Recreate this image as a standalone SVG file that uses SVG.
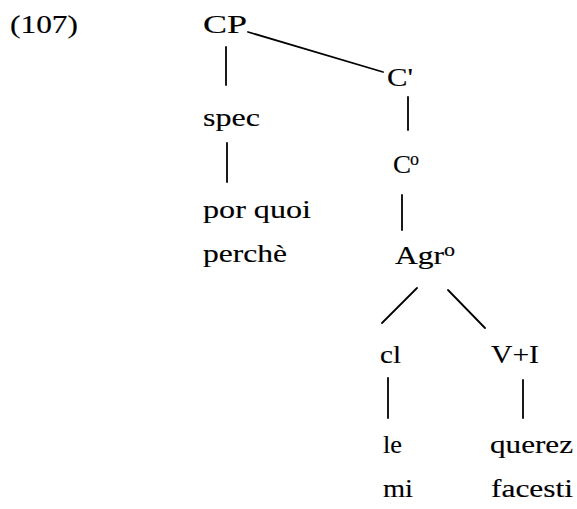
<svg xmlns="http://www.w3.org/2000/svg" width="577" height="509" viewBox="0 0 577 509">
<style>
text{font-family:"Liberation Serif","Times New Roman",serif;font-size:26px;fill:#000;stroke:#000;stroke-width:0.15}
.sup{font-size:18px}
line{stroke:#000;stroke-width:1.8;stroke-linecap:round}
</style>
<rect width="577" height="509" fill="#fff"/>
<text x="10" y="33" textLength="68" lengthAdjust="spacingAndGlyphs">(107)</text>
<g id="connectors">
<line x1="248" y1="32" x2="383" y2="72"/>
<line x1="226" y1="47" x2="226" y2="85"/>
<line x1="227" y1="143" x2="227" y2="182"/>
<line x1="408" y1="97" x2="408" y2="130"/>
<line x1="402" y1="195" x2="402" y2="230"/>
<line x1="417" y1="288" x2="382" y2="323"/>
<line x1="448" y1="290" x2="485" y2="328"/>
<line x1="388" y1="378" x2="388" y2="418"/>
<line x1="523" y1="380" x2="523" y2="418"/>
</g>
<g id="n-cp"><text x="203" y="33" textLength="44" lengthAdjust="spacingAndGlyphs">CP</text></g>
<g id="n-cbar"><text x="387" y="86" textLength="26" lengthAdjust="spacingAndGlyphs">C'</text></g>
<g id="n-spec"><text x="203" y="126" textLength="57" lengthAdjust="spacingAndGlyphs">spec</text></g>
<g id="n-c0"><text x="393" y="173" textLength="18" lengthAdjust="spacingAndGlyphs">C</text><text class="sup" x="410" y="165" textLength="9" lengthAdjust="spacingAndGlyphs">o</text></g>
<g id="n-porquoi"><text x="203" y="218" textLength="108" lengthAdjust="spacingAndGlyphs">por quoi</text><text x="203" y="262" textLength="84" lengthAdjust="spacingAndGlyphs">perchè</text></g>
<g id="n-agr"><text x="395" y="264" textLength="49" lengthAdjust="spacingAndGlyphs">Agr</text><text class="sup" x="444" y="256" textLength="11" lengthAdjust="spacingAndGlyphs">o</text></g>
<g id="n-cl"><text x="380" y="363" textLength="21" lengthAdjust="spacingAndGlyphs">cl</text></g>
<g id="n-vi"><text x="491" y="363" textLength="48" lengthAdjust="spacingAndGlyphs">V+I</text></g>
<g id="n-le"><text x="383" y="453" textLength="19" lengthAdjust="spacingAndGlyphs">le</text><text x="383" y="497" textLength="30" lengthAdjust="spacingAndGlyphs">mi</text></g>
<g id="n-querez"><text x="490" y="453" textLength="83" lengthAdjust="spacingAndGlyphs">querez</text><text x="491" y="497" textLength="82" lengthAdjust="spacingAndGlyphs">facesti</text></g>
</svg>
